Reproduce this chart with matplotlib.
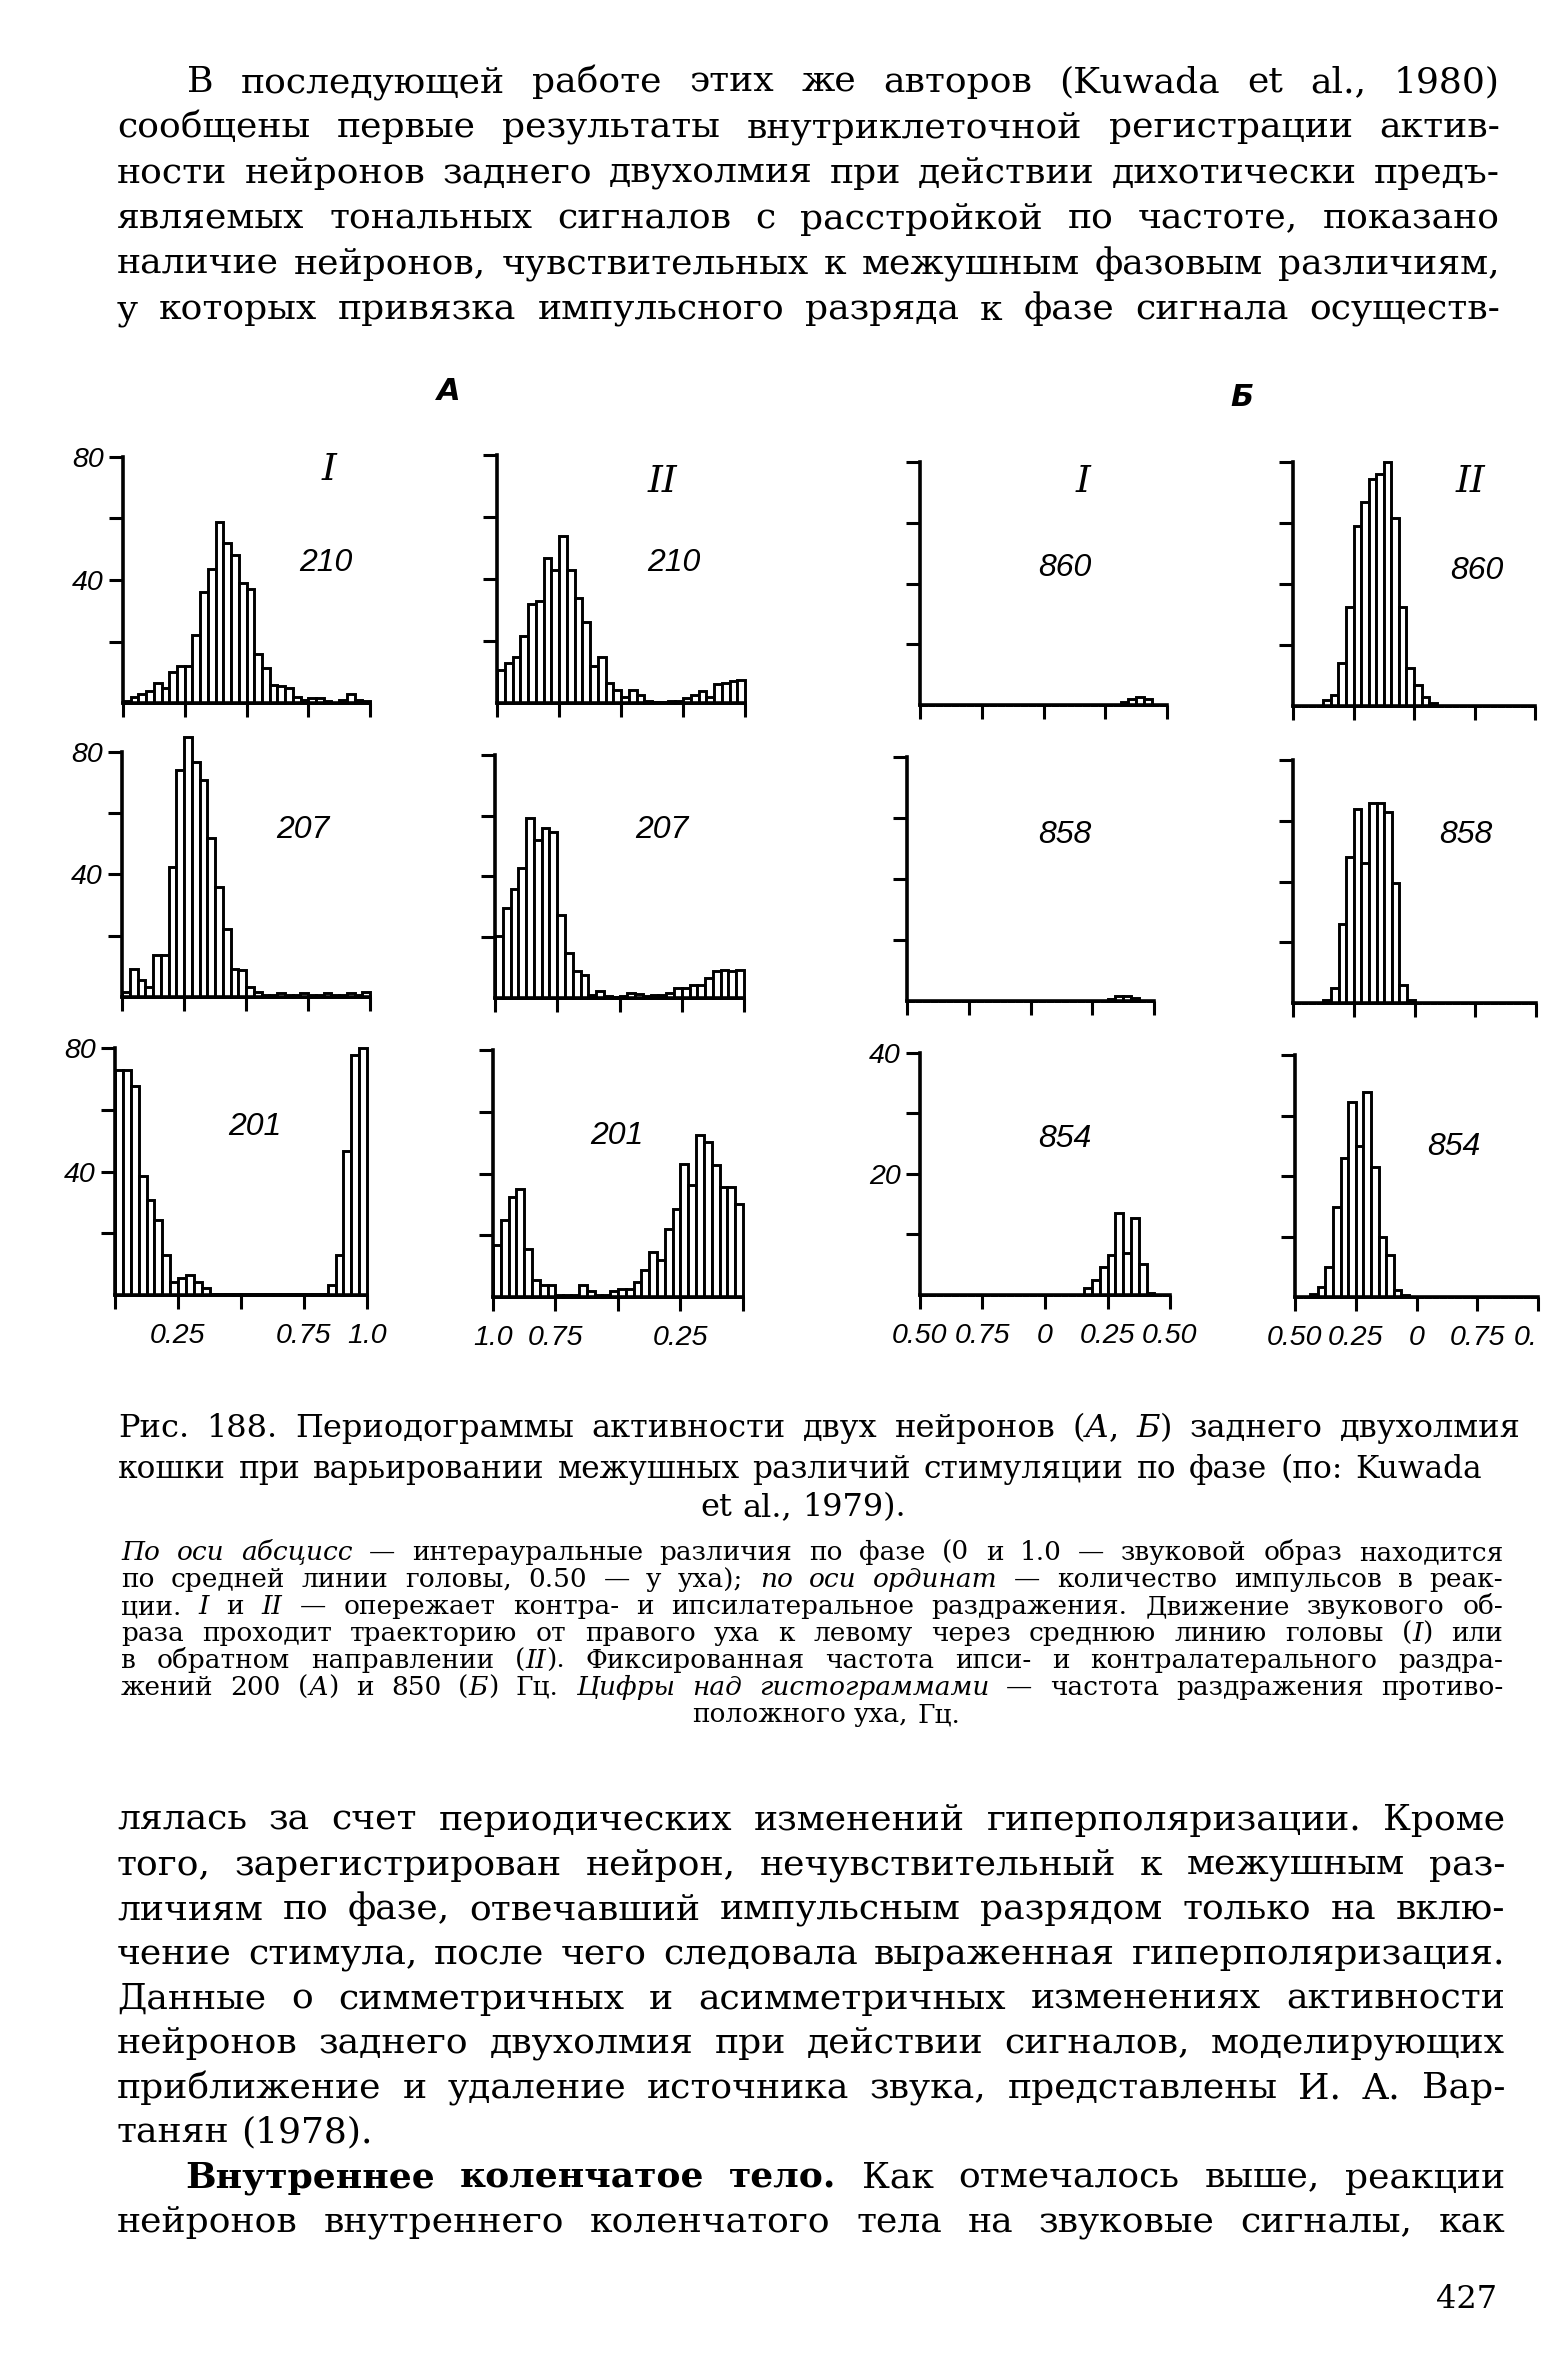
import matplotlib
matplotlib.use('Agg')
import matplotlib.pyplot as plt
import numpy as np

# --- данные: периодограммы, 32 бина на ось (слева направо по рисунку) ---
a1_210 = [0.5, 2, 3, 4, 6.5, 5, 10, 12, 12, 22, 36, 43.5, 59, 52, 48, 39,
          37, 16, 11.5, 6, 5.5, 5, 2, 1, 1.5, 1.5, 0.5, 0, 1, 3, 1, 0.5]
a2_210 = [10.7, 13, 15, 21.5, 32, 33, 46.7, 43, 54, 43, 34, 26, 12, 15, 6.4, 4.3,
          2, 4.3, 2.7, 0.5, 0.3, 0.3, 0.5, 0.5, 1.6, 2.7, 3.8, 2, 6, 6.4, 7, 7.5]
b1_860 = [0] * 26 + [1, 2, 2.7, 2, 0, 0]
b2_860 = [0, 0, 0, 0, 2, 3.6, 14, 32.5, 59, 67, 74.5, 76, 80, 61.5, 32.5, 12.3,
          7, 3, 1, 0, 0, 0, 0, 0, 0, 0, 0, 0, 0, 0, 0, 0]

a1_207 = [1.6, 9.2, 5.4, 3.3, 13.6, 13.6, 42.4, 74, 85, 76.7, 70.7, 52, 36, 22.3, 9.2, 8.7,
          3.3, 1.6, 0.8, 0.5, 1.2, 0.5, 0.8, 1.2, 0.5, 0.6, 1.2, 0.5, 0.8, 1.2, 0.6, 1.5]
a2_207 = [20.3, 29.6, 36, 42.7, 59.2, 52, 56, 54.5, 27.4, 14.8, 8.8, 7.7, 1, 2.2, 0.5, 0.3,
          0.5, 1.6, 1.4, 0.5, 1.1, 1.1, 1.6, 3.3, 3.3, 4.4, 4.4, 6.6, 9, 9.3, 8.8, 9.3]
b1_858 = [0] * 26 + [0.8, 1.5, 1.5, 1.0, 0, 0]
b2_858 = [0, 0, 0, 0, 1, 5, 26, 48, 64, 46, 66, 66, 63, 39.5, 6, 1,
          0, 0, 0, 0, 0, 0, 0, 0, 0, 0, 0, 0, 0, 0, 0, 0]

a1_201 = [73, 73, 67.6, 38.4, 30.8, 24.3, 13, 4.3, 5.4, 6.5, 4.3, 2.2] + [0.3] * 15 + \
         [3.2, 13, 46.5, 77.8, 80]
a2_201 = [16.8, 25, 32.4, 35, 15.7, 5.4, 3.8, 3.8, 0.5, 0.5, 0.5, 3.8, 2, 0.5, 0.5, 2,
          2.7, 2.7, 5, 8.6, 14.6, 12, 22, 28.6, 43.2, 36.2, 52.4, 50.3, 42.7, 35.7, 35.7, 30]
b1_854 = [0] * 21 + [1.1, 2.5, 4.7, 6.6, 13.5, 6.9, 12.7, 5.2, 0.3, 0, 0]
b2_854 = [0, 0, 1, 3.3, 10, 29.8, 45.8, 64.6, 50, 67.9, 43, 19.9, 13.8, 2.2, 0.5, 0,
          0, 0, 0, 0, 0, 0, 0, 0, 0, 0, 0, 0, 0, 0, 0, 0]

freqs = [['210', '210', '860', '860'],
         ['207', '207', '858', '858'],
         ['201', '201', '854', '854']]
series = [[a1_210, a2_210, b1_860, b2_860],
          [a1_207, a2_207, b1_858, b2_858],
          [a1_201, a2_201, b1_854, b2_854]]
ymaxes = [[80, 80, 80, 80], [80, 80, 80, 80], [80, 80, 40, 80]]
xlabels = [['', '0.25', '', '0.75', '1.0'],
           ['1.0', '0.75', '', '0.25', ''],
           ['0.50', '0.75', '0', '0.25', '0.50'],
           ['0.50', '0.25', '0', '0.75', '0.']]
xticks = [0, 0.25, 0.5, 0.75, 1.0]

top_lines = [
    "В последующей работе этих же авторов (Kuwada et al., 1980)",
    "сообщены первые результаты внутриклеточной регистрации актив-",
    "ности нейронов заднего двухолмия при действии дихотически предъ-",
    "являемых тональных сигналов с расстройкой по частоте, показано",
    "наличие нейронов, чувствительных к межушным фазовым различиям,",
    "у которых привязка импульсного разряда к фазе сигнала осуществ-",
]
caption_lines = [
    "Рис. 188. Периодограммы активности двух нейронов (|А|, |Б|) заднего двухолмия",
    "кошки при варьировании межушных различий стимуляции по фазе (по: Kuwada",
    "et al., 1979).",
]
note_lines = [
    "|По оси абсцисс| — интерауральные различия по фазе (0 и 1.0 — звуковой образ находится",
    "по средней линии головы, 0.50 — у уха); |по оси ординат| — количество импульсов в реак-",
    "ции. |I| и |II| — опережает контра- и ипсилатеральное раздражения. Движение звукового об-",
    "раза проходит траекторию от правого уха к левому через среднюю линию головы (|I|) или",
    "в обратном направлении (|II|). Фиксированная частота ипси- и контралатерального раздра-",
    "жений 200 (|А|) и 850 (|Б|) Гц. |Цифры над гистограммами| — частота раздражения противо-",
    "положного уха, Гц.",
]
bottom_lines = [
    "лялась за счет периодических изменений гиперполяризации. Кроме",
    "того, зарегистрирован нейрон, нечувствительный к межушным раз-",
    "личиям по фазе, отвечавший импульсным разрядом только на вклю-",
    "чение стимула, после чего следовала выраженная гиперполяризация.",
    "Данные о симметричных и асимметричных изменениях активности",
    "нейронов заднего двухолмия при действии сигналов, моделирующих",
    "приближение и удаление источника звука, представлены И. А. Вар-",
    "танян (1978).",
    "*Внутреннее коленчатое тело.* Как отмечалось выше, реакции",
    "нейронов внутреннего коленчатого тела на звуковые сигналы, как",
]

W, H = 1541, 2376
fig = plt.figure(figsize=(W / 100, H / 100), dpi=100)
fig.patch.set_facecolor('white')
renderer = fig.canvas.get_renderer()


def fx(x):
    return x / W


def fy(y):
    return 1 - y / H


def parse(line):
    runs, cur, ital, bold = [], '', False, False
    for ch in line:
        if ch in '|*':
            if cur:
                runs.append((cur, ital, bold))
                cur = ''
            if ch == '|':
                ital = not ital
            else:
                bold = not bold
        else:
            cur += ch
    if cur:
        runs.append((cur, ital, bold))
    words = [[]]
    for text, it, bd in runs:
        for k, p in enumerate(text.split(' ')):
            if k > 0:
                words.append([])
            if p:
                words[-1].append((p, it, bd))
    return [w for w in words if w]


def text_line(line, y, x0, x1, size, family='DejaVu Serif', mode='justify', indent=0):
    words = parse(line)
    objs, widths = [], []
    for w in words:
        parts, ww = [], 0
        for txt, it, bd in w:
            t = fig.text(0, fy(y), txt, fontsize=size, family=family,
                         style='italic' if it else 'normal',
                         weight='bold' if bd else 'normal', va='baseline', ha='left')
            e = t.get_window_extent(renderer).width
            parts.append((t, e))
            ww += e
        objs.append(parts)
        widths.append(ww)
    space = size * 100 / 72 * 0.32
    total = sum(widths)
    if mode == 'justify' and len(words) > 1:
        gap = (x1 - x0 - indent - total) / (len(words) - 1)
    else:
        gap = space
    if mode == 'center':
        x = (x0 + x1) / 2 - (total + gap * (len(words) - 1)) / 2
    else:
        x = x0 + indent
    for parts, ww in zip(objs, widths):
        xx = x
        for t, e in parts:
            t.set_x(fx(xx))
            xx += e
        x += ww + gap


# --- верхний абзац ---
for i, ln in enumerate(top_lines):
    text_line(ln, 92 + i * 45.5, 117, 1500, 26, indent=70 if i == 0 else 0)

# --- гистограммы ---
# (left, width, top, baseline) в пикселях
layout = [
    [(123, 247, 457, 703), (497, 248, 455, 703), (920, 247, 462, 705), (1293, 242, 462, 706)],
    [(122, 248, 752, 997), (495, 249, 755, 998), (907, 247, 757, 1001), (1293, 243, 760, 1003)],
    [(115, 252, 1048, 1295), (493, 250, 1050, 1297), (920, 250, 1053, 1295), (1295, 243, 1055, 1297)],
]
ann_roman = {(0, 0): ('I', 329, 470), (0, 1): ('II', 662, 482),
             (0, 2): ('I', 1083, 482), (0, 3): ('II', 1470, 482)}
ann_freq = [[(326, 563), (674, 563), (1065, 568), (1477, 571)],
            [(303, 830), (662, 830), (1065, 835), (1466, 835)],
            [(255, 1127), (617, 1136), (1065, 1139), (1454, 1147)]]

nb = 32
centers = (np.arange(nb) + 0.5) / nb
for r in range(3):
    for c in range(4):
        left, w, top, base = layout[r][c]
        ax = fig.add_axes([fx(left), fy(base), w / W, (base - top) / H])
        ymax = ymaxes[r][c]
        vals = np.array(series[r][c], dtype=float)
        ax.bar(centers, vals, width=1 / nb, color='white', edgecolor='black',
               linewidth=2.1, clip_on=False, zorder=2)
        ax.set_xlim(0, 1)
        ax.set_ylim(0, ymax)
        for s in ('top', 'right'):
            ax.spines[s].set_visible(False)
        for s in ('left', 'bottom'):
            ax.spines[s].set_linewidth(2.6)
            ax.spines[s].set_zorder(3)
        ax.set_yticks([ymax / 4, ymax / 2, 3 * ymax / 4, ymax])
        if c == 0 or (r == 2 and c == 2):
            ax.set_yticklabels(['', str(ymax // 2), '', str(ymax)])
        else:
            ax.set_yticklabels(['', '', '', ''])
        ax.set_xticks(xticks)
        if r == 2:
            ax.set_xticklabels(xlabels[c])
        else:
            ax.set_xticklabels([''] * 5)
        ax.tick_params(axis='both', direction='out', length=10, width=2.2, color='black')
        ax.tick_params(axis='y', pad=4)
        ax.tick_params(axis='x', pad=10)
        for lab in ax.get_xticklabels() + ax.get_yticklabels():
            lab.set_fontsize(20.5)
            lab.set_fontstyle('italic')
            lab.set_family('Liberation Sans')
        if r == 2 and c == 3:
            ax.get_xticklabels()[-1].set_horizontalalignment('right')
        ax.patch.set_alpha(0)
        fxy = ann_freq[r][c]
        fig.text(fx(fxy[0]), fy(fxy[1]), freqs[r][c], fontsize=23, style='italic',
                 family='Liberation Sans', ha='center', va='center')
        if (r, c) in ann_roman:
            txt, rx, ry = ann_roman[(r, c)]
            fig.text(fx(rx), fy(ry), txt, fontsize=27, style='italic',
                     family='DejaVu Serif', ha='center', va='center')

fig.text(fx(449), fy(391), 'А', fontsize=22, style='italic', weight='bold',
         family='DejaVu Sans', ha='center', va='center')
fig.text(fx(1242), fy(398), 'Б', fontsize=22, style='italic', weight='bold',
         family='DejaVu Sans', ha='center', va='center')

# --- подпись ---
text_line(caption_lines[0], 1437, 118, 1521, 23)
text_line(caption_lines[1], 1478, 118, 1482, 22.5)
text_line(caption_lines[2], 1516, 118, 1488, 23, mode='center')

for i, ln in enumerate(note_lines):
    y = 1560 + i * 27
    if i == len(note_lines) - 1:
        text_line(ln, y, 121, 1531, 19, mode='center')
    else:
        text_line(ln, y, 121, 1503, 19)

# --- нижний текст ---
for i, ln in enumerate(bottom_lines):
    y = 1830 + i * 44.7
    if i == 7:
        text_line(ln, y, 117, 1505, 26, mode='left')
    else:
        text_line(ln, y, 117, 1505, 26, indent=68 if i == 8 else 0)

fig.text(fx(1467), fy(2300), '427', fontsize=23, family='DejaVu Serif',
         ha='center', va='center')

fig.savefig('out.png', dpi=100, facecolor='white')
